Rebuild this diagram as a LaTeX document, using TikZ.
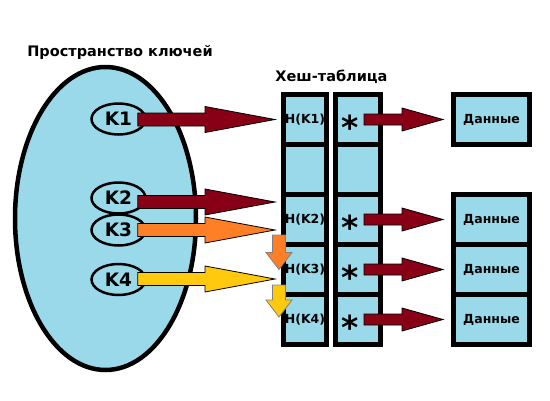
\documentclass[tikz,border=0pt]{standalone}
\usepackage{fontspec}
\setmainfont{DejaVu Sans}
\usepackage{tikz}
\usetikzlibrary{calc,shapes.geometric}

\definecolor{bleuclair}{RGB}{153,217,234}
\definecolor{bordeaux}{RGB}{136,0,21}
\definecolor{orangevif}{RGB}{255,127,39}
\definecolor{jaune}{RGB}{255,201,14}

% grosse fleche : style, depart, pointe, tete, demi-corps, demi-tete
\newcommand{\flechedroite}[6]{%
  \draw[#1] let \p1=(#2), \p2=(#3) in
    (\x1,\y2+#5) -- (\x2-#4,\y2+#5) -- (\x2-#4,\y2+#6) -- (\x2,\y2)
    -- (\x2-#4,\y2-#6) -- (\x2-#4,\y2-#5) -- (\x1,\y2-#5) -- cycle;}
\newcommand{\flechebas}[6]{%
  \draw[#1] let \p1=(#2), \p2=(#3) in
    (\x2-#5,\y1) -- (\x2-#5,\y2+#4) -- (\x2-#6,\y2+#4) -- (\x2,\y2)
    -- (\x2+#6,\y2+#4) -- (\x2+#5,\y2+#4) -- (\x2+#5,\y1) -- cycle;}

\begin{document}
\begin{tikzpicture}[
    x=1pt, y=-1pt,
    titre/.style={font=\fontsize{14.5}{16}\selectfont\bfseries},
    cle/.style={ellipse, draw, line width=2.5pt, fill=bleuclair, inner sep=0pt,
      minimum width=54pt, minimum height=31pt, font=\fontsize{18.5}{20}\selectfont\bfseries},
    cellule/.style={draw, line width=5pt, fill=bleuclair, inner sep=0pt,
      minimum height=50pt, font=\fontsize{12.5}{14}\selectfont\bfseries},
    etoile/.style={inner sep=0pt, font=\fontsize{33}{34}\selectfont\bfseries},
    rouge/.style={draw=black, line width=0.8pt, fill=bordeaux},
  ]
  \useasboundingbox (0,0) rectangle (550,400);

  % espace des cles
  \node[titre] (titrecles) at (120,52) {Пространство ключей};
  \node[ellipse, draw, line width=4.5pt, fill=bleuclair, inner sep=0pt,
    minimum width=181pt, minimum height=303pt] (espace) at (105.5,218.5) {};
  \node[cle] (k1) at (118.5,119) {K1};
  \node[cle] (k2) at (118.5,198) {K2};
  \node[cle] (k3) at (118.5,230) {K3};
  \node[cle] (k4) at (118.5,279.5) {K4};

  % table
  \node[titre] (titretable) at (331.5,77) {Хеш-таблица};
  \foreach \i/\t in {1/H(K1),2/{},3/H(K2),4/H(K3),5/H(K4)} {
    \node[cellule, minimum width=43pt] (h\i) at (305,69.5+50*\i) {\t};
    \node[cellule, minimum width=45pt] (p\i) at (358,69.5+50*\i) {};
  }
  \node[cellule, minimum width=76pt] (d1) at (491.5,119.5) {Данные};
  \node[cellule, minimum width=76pt] (d3) at (491.5,219.5) {Данные};
  \node[cellule, minimum width=76pt] (d4) at (491.5,269.5) {Данные};
  \node[cellule, minimum width=76pt] (d5) at (491.5,319.5) {Данные};

  \foreach \i in {1,3,4,5} {
    \node[etoile] (e\i) at ($(p\i)+(-8,8)$) {*};
    \flechedroite{rouge}{$(p\i)+(6,0)$}{$(d\i.west)+(-8,0)$}{41pt}{5.5pt}{11.5pt}
  }

  \coordinate (t1) at ($(h1.west)+(-6,0)$);
  \coordinate (t2) at ($(h3.west)+(-6,-17.5)$);
  \coordinate (t3) at ($(h3.west)+(-6,10.5)$);
  \coordinate (t4) at ($(h4.west)+(-6,9.5)$);
  \flechedroite{rouge}{$(k1.east)+(-9,0)$}{t1}{70pt}{6.5pt}{13pt}
  \flechedroite{rouge}{$(k2.east)+(-9,0)$}{t2}{70pt}{6.5pt}{13pt}
  \flechedroite{draw=black, line width=0.8pt, fill=orangevif}{$(k3.east)+(-9,0)$}{t3}{70pt}{6.5pt}{13pt}
  \flechedroite{draw=black, line width=0.8pt, fill=jaune}{$(k4.east)+(-9,0)$}{t4}{70pt}{6.5pt}{13pt}

  % collisions
  \flechebas{draw=gray, line width=0.8pt, fill=orangevif}{$(h3.west)+(-2,15.5)$}{$(h4.west)+(-2,0)$}{17pt}{6.5pt}{13pt}
  \flechebas{draw=gray, line width=0.8pt, fill=jaune}{$(h4.west)+(-2,15.5)$}{$(h5.west)+(-2,-2.5)$}{17pt}{6.5pt}{13pt}
\end{tikzpicture}
\end{document}
